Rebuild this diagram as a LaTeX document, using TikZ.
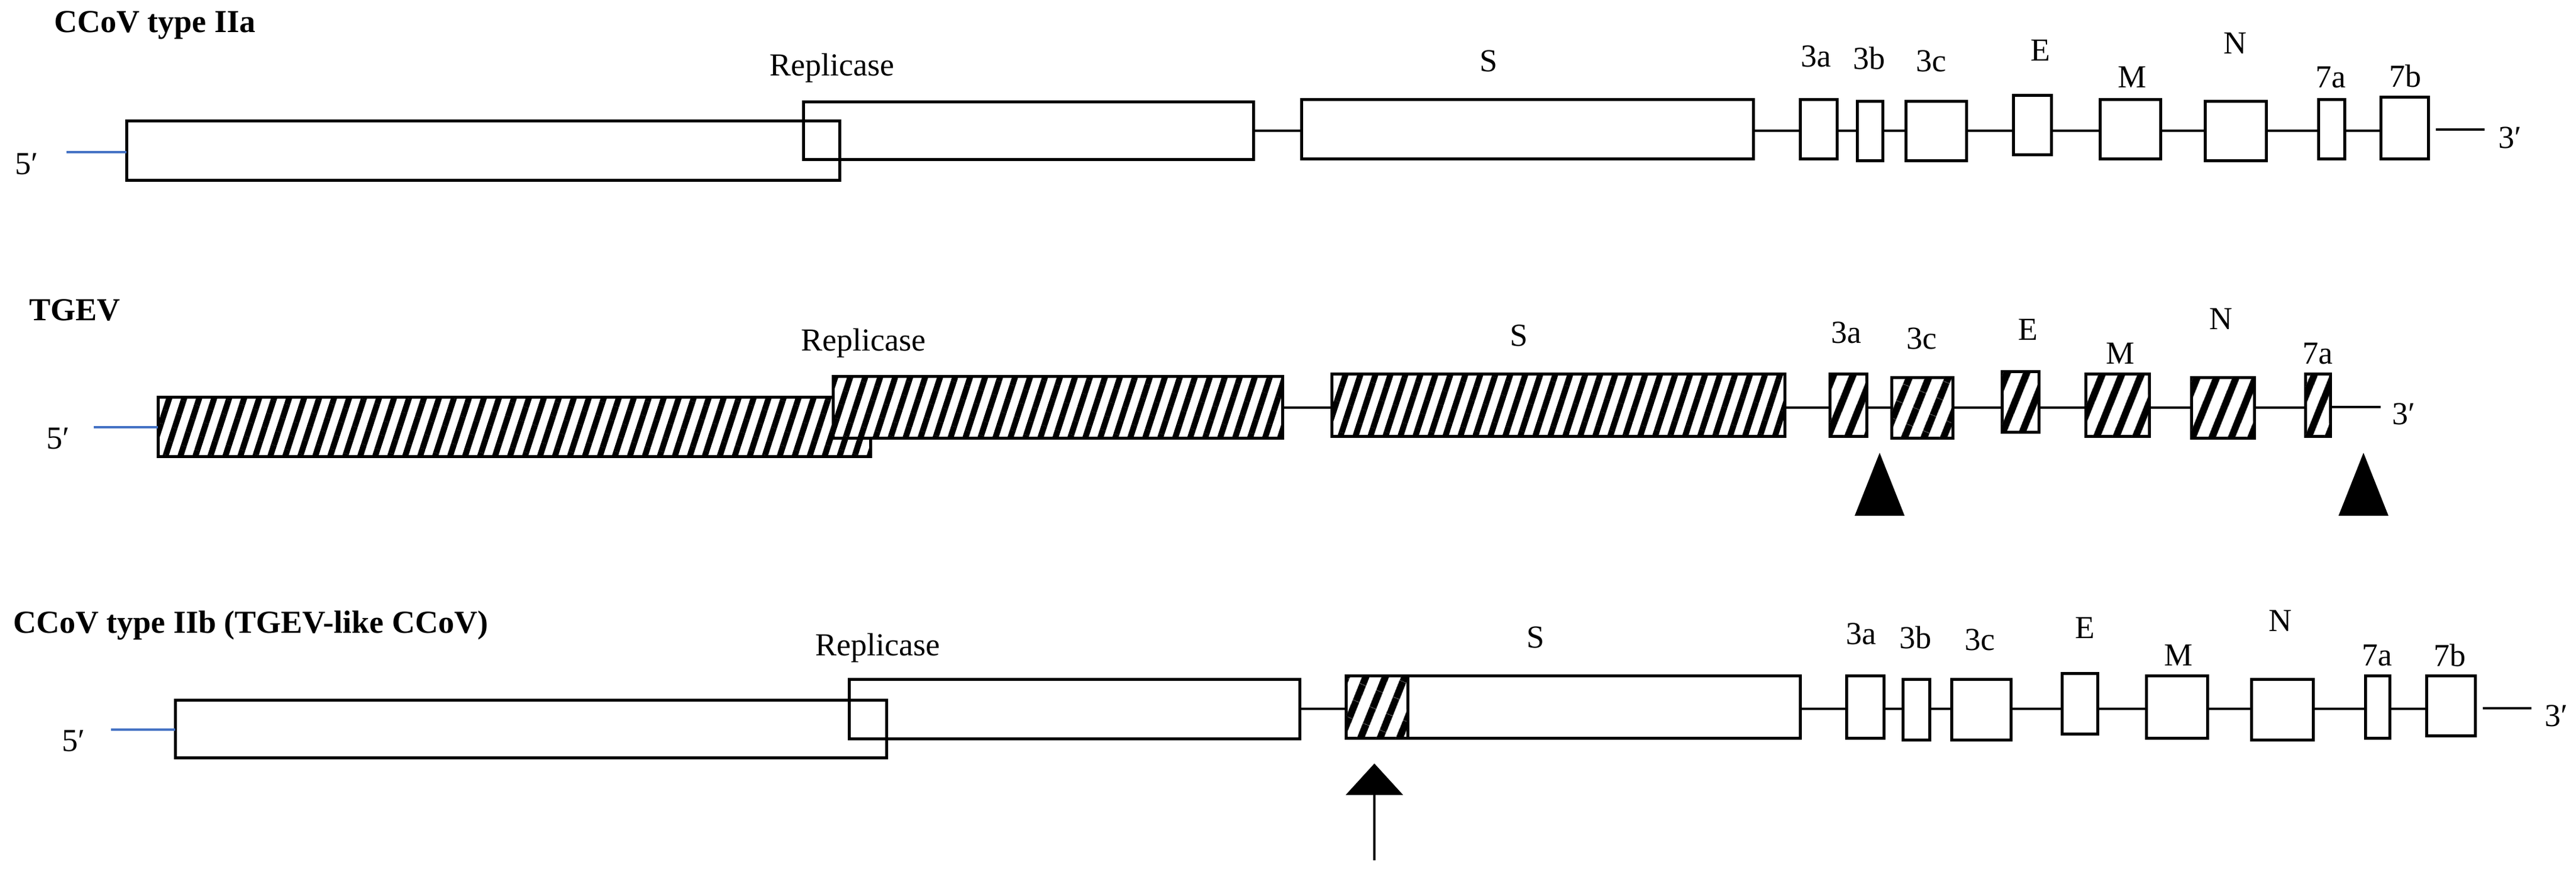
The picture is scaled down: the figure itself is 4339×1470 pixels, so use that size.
\documentclass[tikz,border=0pt]{standalone}
\usepackage{fontspec}
\setmainfont{Liberation Serif}
\usetikzlibrary{patterns.meta,arrows.meta}
\begin{document}
\begin{tikzpicture}[x=1pt,y=-1pt,
  gbox/.style={draw=black,line width=5pt,fill=white,inner sep=0pt,outer sep=0pt,anchor=north west},
  hbig/.style={gbox,postaction={pattern={Lines[angle=72,distance=24pt,line width=10pt]}}},
  hsm/.style={gbox,postaction={pattern={Lines[angle=68,distance=30pt,line width=12pt]}}},
  conn/.style={line width=3.5pt},
  five/.style={line width=4pt,draw={rgb,255:red,68;green,114;blue,196}},
  lab/.style={font=\fontsize{54}{60}\selectfont,inner sep=0pt},
  ttl/.style={font=\fontsize{54}{60}\selectfont\bfseries,inner sep=0pt,anchor=west}]
\useasboundingbox (0,0) rectangle (4339,1470);
\fill[white] (0,0) rectangle (4339,1470);
\newcommand\gb[6]{\node[#6,minimum width={#4pt-#2pt},minimum height={#5pt-#3pt}] (#1) at (#2,#3) {};}
% ---------------- Row 1
\node[ttl] (t1) at (91,42) {CCoV type IIa};
\gb{ra1}{213}{203}{1414}{303}{gbox,fill=none}
\gb{rb1}{1353}{171}{2111}{268}{gbox,fill=none}
\gb{s1}{2192}{167}{2953}{267}{gbox}
\gb{a1}{3032}{167}{3094}{267}{gbox}
\gb{b1}{3128}{170}{3171}{270}{gbox}
\gb{c1}{3210}{170}{3312}{270}{gbox}
\gb{e1}{3391}{160}{3455}{260}{gbox}
\gb{m1}{3537}{167}{3639}{267}{gbox}
\gb{n1}{3714}{170}{3817}{270}{gbox}
\gb{sa1}{3905}{167}{3949}{267}{gbox}
\gb{sb1}{4010}{163}{4090}{267}{gbox}
\foreach \p/\q in {rb1/s1,s1/a1,a1/b1,b1/c1,c1/e1,e1/m1,m1/n1,n1/sa1,sa1/sb1}
  \draw[conn] (\p.east |- 0,220) -- (\q.west |- 0,220);
\coordinate (e31a) at (4103,218); \coordinate (e31b) at (4185,218);
\draw[conn] (e31a) -- (e31b);
\node[lab] (th1) at (4228,232) {3′};
\node[lab] (fv1) at (45,276) {5′};
\coordinate (bl1) at (112,256);
\draw[five] (bl1) -- (bl1 -| ra1.west);
\node[lab] at (1401,115) {Replicase};
\node[lab] at (2507,103) {S};
\node[lab] at (3059,95) {3a};
\node[lab] at (3148,98) {3b};
\node[lab] at (3253,103) {3c};
\node[lab] at (3437,85) {E};
\node[lab] at (3591,130) {M};
\node[lab] at (3765,73) {N};
\node[lab] at (3926,130) {7a};
\node[lab] at (4051,128) {7b};
% ---------------- Row 2
\node[ttl] (t2) at (49,522) {TGEV};
\gb{ra2}{266}{668}{1466}{768}{hbig}
\gb{rb2}{1403}{633}{2160}{737}{hbig}
\gb{s2}{2243}{629}{3006}{734}{hbig}
\gb{a2}{3082}{629}{3144}{734}{hsm}
\gb{c2}{3186}{635}{3289}{737}{hsm}
\gb{e2}{3372}{625}{3434}{727}{hsm}
\gb{m2}{3513}{629}{3620}{734}{hsm}
\gb{n2}{3691}{635}{3797}{737}{hsm}
\gb{sa2}{3883}{629}{3925}{734}{hsm}
\foreach \p/\q in {rb2/s2,s2/a2,a2/c2,c2/e2,e2/m2,m2/n2,n2/sa2}
  \draw[conn] (\p.east |- 0,686) -- (\q.west |- 0,686);
\coordinate (e32) at (4010,685);
\draw[conn] (sa2.east |- e32) -- (e32);
\node[lab] (th2) at (4049,697) {3′};
\node[lab] (fv2) at (98,738) {5′};
\coordinate (bl2) at (158,719);
\draw[five] (bl2) -- (bl2 -| ra2.west);
\node[lab] at (1454,578) {Replicase};
\node[lab] at (2558,565) {S};
\node[lab] at (3110,560) {3a};
\node[lab] at (3237,570) {3c};
\node[lab] at (3416,555) {E};
\node[lab] at (3571,595) {M};
\node[lab] at (3741,537) {N};
\node[lab] at (3904,595) {7a};
\coordinate (tr1) at (3166,762);
\coordinate (tr2) at (3981,762);
\fill (tr1) -- ++(42,106) -- ++(-84,0) -- cycle;
\fill (tr2) -- ++(42,106) -- ++(-84,0) -- cycle;
% ---------------- Row 3
\node[ttl] (t3) at (22,1053) {CCoV type IIb (TGEV-like CCoV)};
\gb{ra3}{295}{1178}{1493}{1275}{gbox,fill=none}
\gb{rb3}{1430}{1143}{2189}{1243}{gbox,fill=none}
\gb{s3}{2371}{1137}{3032}{1242}{gbox}
\gb{h3}{2267}{1137}{2371}{1242}{hsm}
\gb{a3}{3110}{1137}{3173}{1242}{gbox}
\gb{b3}{3205}{1143}{3250}{1245}{gbox}
\gb{c3}{3287}{1143}{3387}{1245}{gbox}
\gb{e3}{3473}{1133}{3533}{1235}{gbox}
\gb{m3}{3615}{1137}{3718}{1242}{gbox}
\gb{n3}{3792}{1143}{3896}{1245}{gbox}
\gb{sa3}{3984}{1137}{4025}{1242}{gbox}
\gb{sb3}{4087}{1137}{4169}{1238}{gbox}
\foreach \p/\q in {rb3/h3,s3/a3,a3/b3,b3/c3,c3/e3,e3/m3,m3/n3,n3/sa3,sa3/sb3}
  \draw[conn] (\p.east |- 0,1193) -- (\q.west |- 0,1193);
\coordinate (e33a) at (4182,1192); \coordinate (e33b) at (4264,1192);
\draw[conn] (e33a) -- (e33b);
\node[lab] (th3) at (4306,1205) {3′};
\node[lab] (fv3) at (124,1247) {5′};
\coordinate (bl3) at (187,1228);
\draw[five] (bl3) -- (bl3 -| ra3.west);
\node[lab] at (1478,1090) {Replicase};
\node[lab] at (2586,1073) {S};
\node[lab] at (3135,1067) {3a};
\node[lab] at (3226,1073) {3b};
\node[lab] at (3335,1077) {3c};
\node[lab] at (3512,1057) {E};
\node[lab] at (3669,1103) {M};
\node[lab] at (3841,1045) {N};
\node[lab] at (4004,1103) {7a};
\node[lab] at (4126,1103) {7b};
\coordinate (arT) at (2315,1448);
\coordinate (arH) at (2315,1285);
\draw[line width=4pt,-{Triangle[width=96pt,length=53pt]}] (arT) -- (arH);
\end{tikzpicture}
\end{document}
